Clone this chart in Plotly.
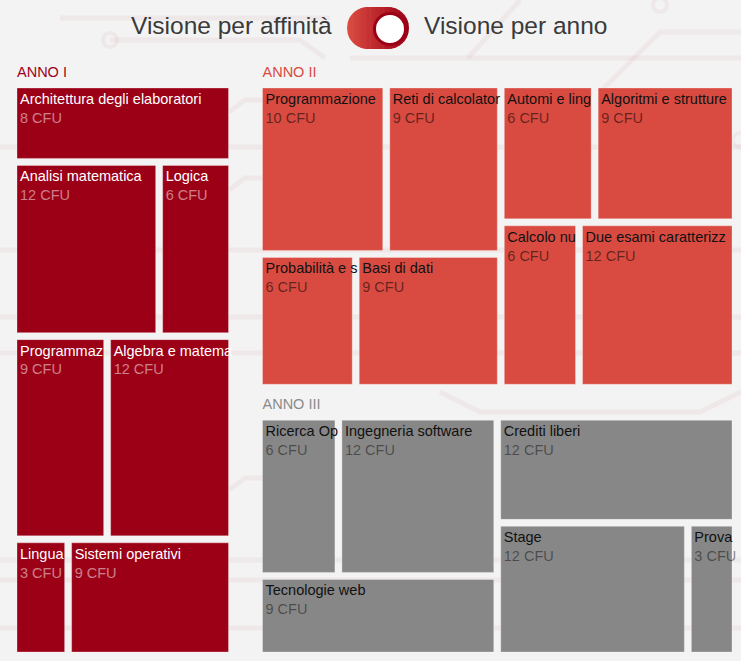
import numpy as np
import plotly.graph_objects as go

# ---------------- data ----------------
anni = ["ANNO I", "ANNO II", "ANNO III"]

corsi_anno1 = ["Architettura degli elaboratori", "Analisi matematica", "Logica",
               "Programmaz", "Algebra e matema", "Lingua", "Sistemi operativi"]
cfu_anno1 = [8, 12, 6, 9, 12, 3, 9]

corsi_anno2 = ["Programmazione ", "Reti di calcolator", "Probabilità e s", "Basi di dati",
               "Automi e ling", "Algoritmi e strutture", "Calcolo nu", "Due esami caratterizz"]
cfu_anno2 = [10, 9, 6, 9, 6, 9, 6, 12]

corsi_anno3 = ["Ricerca Op", "Ingegneria software", "Tecnologie web",
               "Crediti liberi", "Stage", "Prova"]
cfu_anno3 = [6, 12, 9, 12, 12, 3]

# ---------------- styles ----------------
FILL = ["#9C0016", "#D94B41", "#878787"]
HEAD = ["#A0001A", "#D94B41", "#8A8A8A"]
LABEL_COL = ["#FFFFFF", "#111111", "#111111"]
CFU_COL = ["rgba(255,255,255,0.5)", "rgba(0,0,0,0.55)", "rgba(0,0,0,0.45)"]
BG = "#F3F3F3"
FONT = "Liberation Sans, Arial, sans-serif"
FS = 14.5

ids, labels, parents, values = ["root"], [""], [""], [0]
colors, tcolors, ttemps, lcolors, lwidths = ["rgba(0,0,0,0)"], [BG], [""], ["rgba(0,0,0,0)"], [0]

for k, (anno, corsi, cfu) in enumerate(zip(anni, [corsi_anno1, corsi_anno2, corsi_anno3],
                                            [cfu_anno1, cfu_anno2, cfu_anno3])):
    gid = "a%d" % k
    ids.append(gid); labels.append(anno); parents.append("root"); values.append(0)
    colors.append("rgba(0,0,0,0)"); tcolors.append(HEAD[k]); ttemps.append("%{label}")
    lcolors.append("rgba(0,0,0,0)"); lwidths.append(0)
    for j, (c, v) in enumerate(zip(corsi, cfu)):
        ids.append("%s_%d" % (gid, j)); labels.append(c); parents.append(gid); values.append(v)
        colors.append(FILL[k]); tcolors.append(LABEL_COL[k])
        ttemps.append("%{label}<br><span style='color:" + CFU_COL[k] + "'>%{value} CFU</span>")
        lcolors.append("rgba(255,255,255,0.3)"); lwidths.append(1)

W, H = 769, 661
MT, MB = 34, 5

fig = go.Figure(go.Treemap(
    ids=ids, labels=labels, parents=parents, values=values,
    branchvalues="remainder", sort=False,
    tiling=dict(packing="binary", pad=7),
    marker=dict(colors=colors, line=dict(color=lcolors, width=lwidths),
                pad=dict(t=27, l=8.5, r=18.5, b=2), depthfade=False),
    texttemplate=ttemps, textposition="top left",
    textfont=dict(family=FONT, size=FS, color=tcolors),
    hovertemplate="%{label}<br>%{value} CFU<extra></extra>",
    pathbar=dict(visible=False),
    root=dict(color="rgba(0,0,0,0)"),
))

def px2x(px):
    return px / W

def py2y(py):
    return 1 - (py - MT) / (H - MT - MB)

shapes = []

# faint circuit-board decoration in the background
TRACE = "rgba(200,120,130,0.09)"
circuit = [
    [(60, 18), (330, 18)],
    [(110, 40), (300, 40), (325, 58)],
    [(350, 58), (741, 58)],
    [(468, 58), (520, 0)],
    [(600, 92), (660, 32), (741, 32)],
    [(0, 147), (741, 147)],
    [(229, 112), (245, 100), (263, 100)],
    [(229, 190), (245, 178), (263, 178)],
    [(0, 250), (741, 250)],
    [(0, 317), (741, 317)],
    [(0, 353), (741, 353)],
    [(440, 392), (480, 412), (700, 412), (741, 392)],
    [(229, 490), (245, 478), (263, 478)],
    [(0, 560), (741, 560)],
    [(0, 580), (741, 580)],
    [(0, 628), (741, 628)],
]
for pts in circuit:
    path = "M " + " L ".join("%.5f,%.5f" % (px2x(a), py2y(b)) for a, b in pts)
    shapes.append(dict(type="path", path=path, xref="paper", yref="paper",
                       line=dict(color=TRACE, width=5), layer="below"))
for cx, cy in [(110, 40), (740, 140), (660, 5)]:
    shapes.append(dict(type="circle", xref="paper", yref="paper",
                       x0=px2x(cx - 7), x1=px2x(cx + 7), y0=py2y(cy + 7), y1=py2y(cy - 7),
                       fillcolor="rgba(0,0,0,0)", line=dict(color=TRACE, width=4), layer="below"))

# toggle switch (decorative)
xl, xr, yc, r = 347.0, 409.0, 28.0, 21.0
cl, cr = xl + r, xr - r
edges = np.linspace(xl, xr, 25)
c0 = np.array([0xDB, 0x4C, 0x42]); c1 = np.array([0x9C, 0x00, 0x16])

def half(x):
    if x < cl:
        return np.sqrt(max(r * r - (x - cl) ** 2, 0))
    if x > cr:
        return np.sqrt(max(r * r - (x - cr) ** 2, 0))
    return r

for i in range(len(edges) - 1):
    xa, xb = edges[i], edges[i + 1] + 0.6
    xs = np.linspace(xa, min(xb, xr), 6)
    top = [(x, yc - half(x)) for x in xs]
    bot = [(x, yc + half(x)) for x in xs[::-1]]
    pts = top + bot
    path = "M " + " L ".join("%.5f,%.5f" % (px2x(a), py2y(b)) for a, b in pts) + " Z"
    t = i / (len(edges) - 2)
    col = c0 * (1 - t) + c1 * t
    shapes.append(dict(type="path", path=path, xref="paper", yref="paper",
                       fillcolor="rgb(%d,%d,%d)" % tuple(col), line=dict(width=0), layer="above"))
shapes.append(dict(type="circle", xref="paper", yref="paper",
                   x0=px2x(390 - 15.5), x1=px2x(390 + 15.5), y0=py2y(29 + 15.5), y1=py2y(29 - 15.5),
                   fillcolor="#FFFFFF", line=dict(color="#9C0016", width=3), layer="above"))

annotations = [
    dict(text="Visione per affinità", x=px2x(334), y=py2y(26), xref="paper", yref="paper",
         xanchor="right", yanchor="middle", showarrow=False,
         font=dict(family=FONT, size=24.5, color="#3A3A3A")),
    dict(text="Visione per anno", x=px2x(422), y=py2y(26), xref="paper", yref="paper",
         xanchor="left", yanchor="middle", showarrow=False,
         font=dict(family=FONT, size=24.5, color="#3A3A3A")),
]

fig.update_layout(
    width=W, height=H,
    margin=dict(l=0, r=0, t=MT, b=MB, pad=0),
    paper_bgcolor=BG, plot_bgcolor=BG,
    uniformtext=dict(minsize=FS, mode="show"),
    shapes=shapes, annotations=annotations,
    showlegend=False,
)

fig.write_html("out.html",
               post_script="document.body.style.margin='0';document.body.style.overflow='hidden';"
                           "document.documentElement.style.overflow='hidden';")
